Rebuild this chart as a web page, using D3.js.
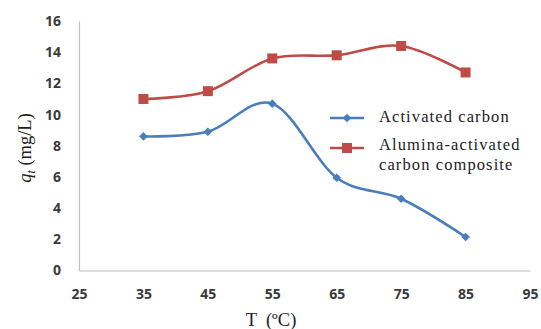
<!DOCTYPE html>
<html>
<head>
<meta charset="utf-8">
<script src="https://cdn.jsdelivr.net/npm/d3@7"></script>
<style>
  html, body { margin: 0; padding: 0; background: #fff; }
  svg { display: block; }
</style>
</head>
<body>
<svg id="chart" width="541" height="329"></svg>
<script>
// Adsorption capacity vs temperature
const temperatures = [35, 45, 55, 65, 75, 85];
const activatedCarbon = [8.6, 8.9, 10.7, 5.95, 4.6, 2.15];
const aluminaComposite = [11.0, 11.5, 13.6, 13.8, 14.4, 12.7];
const xTicks = [25, 35, 45, 55, 65, 75, 85, 95];
const yTicks = [0, 2, 4, 6, 8, 10, 12, 14, 16];
const seriesNames = ["Activated carbon", "Alumina-activated carbon composite"];

const svg = d3.select("#chart");
const x = d3.scaleLinear().domain([25, 95]).range([79, 530]);
const y = d3.scaleLinear().domain([0, 16]).range([270.5, 21]);

const tickFont = "'Open Sans', 'Liberation Sans', sans-serif";
const serif = "'Liberation Serif', 'DejaVu Serif', serif";

// Axes
const xAxis = svg.append("g").attr("transform", `translate(0,${y(0)})`)
  .call(d3.axisBottom(x).tickValues(xTicks).tickSize(0).tickPadding(19));
const yAxis = svg.append("g").attr("transform", `translate(${x(25)},0)`)
  .call(d3.axisLeft(y).tickValues(yTicks).tickSize(0).tickPadding(18));
[xAxis, yAxis].forEach(a => {
  a.select(".domain").attr("stroke", "#bfbfbf").attr("stroke-width", 1.2);
  a.selectAll("text").attr("font-family", tickFont).attr("font-size", 14)
    .attr("font-weight", 700).attr("fill", "#3a3a3a");
});

// Axis titles
svg.append("text").attr("x", 271).attr("y", 326).attr("text-anchor", "middle")
  .attr("font-family", serif).attr("font-size", 18.5).attr("fill", "#222")
  .attr("xml:space", "preserve")
  .text("T  (ºC)");
const yt = svg.append("text")
  .attr("transform", `translate(31,148) rotate(-90)`).attr("text-anchor", "middle")
  .attr("font-family", serif).attr("font-size", 18.5).attr("fill", "#222");
yt.append("tspan").attr("font-style", "italic").text("q");
yt.append("tspan").attr("font-style", "italic").attr("font-size", 12).attr("dy", 4).text("t");
yt.append("tspan").attr("dy", -4).text(" (mg/L)");

const line = d3.line().x((d, i) => x(temperatures[i])).y(d => y(d))
  .curve(d3.curveCardinal.tension(0));

const blue = "#4a7ebb", red = "#be4b48";

// Composite series
svg.append("path").datum(aluminaComposite).attr("d", line)
  .attr("fill", "none").attr("stroke", red).attr("stroke-width", 2.6);
svg.selectAll(".sq").data(aluminaComposite).join("rect")
  .attr("x", (d, i) => x(temperatures[i]) - 5).attr("y", d => y(d) - 5)
  .attr("width", 10).attr("height", 10).attr("fill", red);

// Activated carbon series
svg.append("path").datum(activatedCarbon).attr("d", line)
  .attr("fill", "none").attr("stroke", blue).attr("stroke-width", 2.6);
const diamond = d3.symbol().type(d3.symbolDiamond2).size(48);
svg.selectAll(".dm").data(activatedCarbon).join("path")
  .attr("d", diamond)
  .attr("transform", (d, i) => `translate(${x(temperatures[i])},${y(d)})`)
  .attr("fill", blue);

// Legend
const lg = svg.append("g").attr("font-family", serif).attr("font-size", 16.5)
  .attr("letter-spacing", 1.1).attr("fill", "#222");
lg.append("line").attr("x1", 330).attr("x2", 364).attr("y1", 118).attr("y2", 118)
  .attr("stroke", blue).attr("stroke-width", 2.6);
lg.append("path").attr("d", diamond).attr("transform", "translate(347,118)").attr("fill", blue);
lg.append("text").attr("x", 379).attr("y", 122).text(seriesNames[0]);
lg.append("line").attr("x1", 330).attr("x2", 364).attr("y1", 148).attr("y2", 148)
  .attr("stroke", red).attr("stroke-width", 2.6);
lg.append("rect").attr("x", 342).attr("y", 143).attr("width", 10).attr("height", 10).attr("fill", red);
lg.append("text").attr("x", 379).attr("y", 150).text("Alumina-activated");
lg.append("text").attr("x", 379).attr("y", 170).text("carbon composite");
</script>
</body>
</html>
